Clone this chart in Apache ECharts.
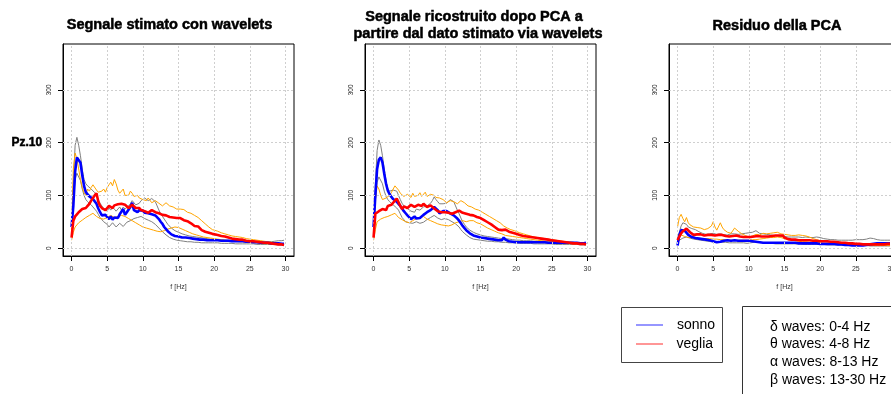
<!DOCTYPE html>
<html>
<head>
<meta charset="utf-8">
<script src="https://cdn.jsdelivr.net/npm/echarts@6/dist/echarts.min.js"></script>
<style>
  html, body { margin: 0; padding: 0; background: #ffffff; }
  #chart { width: 891px; height: 394px; }
</style>
</head>
<body>
<div id="chart"></div>
<script>
// Frequency grid (Hz) shared by every spectrum
const freq = [
  0, 0.25, 0.5, 0.75, 1, 1.25, 1.5, 1.75, 2, 2.25, 2.5, 2.75, 3, 3.25, 3.5, 3.75, 4, 4.25, 4.5, 4.75, 5,
  5.25, 5.5, 5.75, 6, 6.25, 6.5, 6.75, 7, 7.25, 7.5, 7.75, 8, 8.25, 8.5, 8.75, 9, 9.25, 9.5, 9.75, 10,
  10.25, 10.5, 10.75, 11, 11.25, 11.5, 11.75, 12, 12.25, 12.5, 12.75, 13, 13.25, 13.5, 13.75, 14, 14.25, 14.5, 14.75, 15,
  15.25, 15.5, 15.75, 16, 16.25, 16.5, 16.75, 17, 17.25, 17.5, 17.75, 18, 18.25, 18.5, 18.75, 19, 19.25, 19.5, 19.75, 20,
  20.5, 21, 21.5, 22, 22.5, 23, 23.5, 24, 24.5, 25, 25.5, 26, 26.5, 27, 27.5, 28, 28.5, 29, 29.5,
  29.8];

const xTicks = [0, 5, 10, 15, 20, 25, 30];
const yTicks = [0, 100, 200, 300];

// Panel 1: wavelet estimate
const p1Gray1 = [
  30, 120, 195, 210, 195, 175, 150, 130, 122, 118, 115, 112, 112, 105, 100, 92, 85, 80, 75, 72, 70,
  76, 72, 78, 75, 70, 72, 78, 72, 78, 74, 75, 80, 84, 90, 86, 82, 80, 85, 90, 92,
  95, 97, 90, 90, 94, 96, 88, 80, 72, 65, 60, 55, 50, 45, 42, 38, 35, 33, 31, 30,
  28, 27, 26, 25, 24, 23, 23, 22, 22, 21, 20, 20, 20, 19, 18, 18, 18, 17, 17, 17,
  16, 16, 15, 15, 15, 14, 14, 14, 13, 13, 13, 13, 13, 12, 12, 12, 13, 14, 14,
  15];
const p1Gray2 = [
  35, 90, 130, 142, 140, 128, 112, 100, 92, 88, 85, 82, 78, 74, 70, 64, 58, 54, 50, 47, 45,
  40, 43, 48, 46, 40, 42, 47, 44, 41, 44, 49, 48, 52, 50, 56, 54, 58, 55, 60, 58,
  56, 55, 53, 52, 50, 48, 45, 42, 38, 35, 31, 28, 25, 22, 20, 18, 17, 16, 15, 15,
  14, 14, 13, 13, 12, 12, 12, 12, 11, 11, 11, 11, 10, 10, 10, 10, 10, 10, 10, 10,
  10, 9, 9, 9, 9, 8, 8, 8, 8, 8, 8, 7, 7, 7, 7, 7, 7, 6, 6,
  6];
const p1Orange1 = [
  30, 150, 180, 170, 150, 130, 115, 105, 100, 112, 108, 115, 120, 118, 110, 106, 104, 108, 112, 106, 115,
  120, 125, 118, 130, 122, 110, 104, 105, 112, 100, 98, 100, 108, 104, 98, 95, 100, 95, 96, 92,
  94, 90, 95, 92, 86, 88, 90, 90, 85, 85, 80, 82, 86, 84, 80, 80, 78, 78, 74, 76,
  74, 72, 73, 70, 68, 68, 66, 64, 62, 60, 58, 56, 52, 49, 46, 43, 40, 38, 35, 35,
  32, 29, 27, 25, 23, 22, 21, 20, 18, 17, 16, 15, 14, 13, 12, 11, 10, 9, 8,
  8];
const p1Orange2 = [
  15, 30, 40, 44, 48, 50, 53, 56, 58, 60, 62, 64, 66, 63, 60, 58, 56, 54, 55, 57, 58,
  60, 62, 60, 58, 56, 60, 58, 62, 62, 60, 58, 56, 55, 52, 50, 48, 45, 44, 42, 40,
  39, 38, 37, 36, 35, 34, 33, 32, 31, 31, 32, 33, 35, 36, 38, 38, 40, 40, 40, 39,
  38, 36, 35, 33, 32, 30, 28, 27, 26, 25, 24, 23, 22, 21, 21, 20, 19, 19, 18, 18,
  17, 16, 15, 14, 13, 13, 12, 12, 11, 11, 10, 10, 9, 9, 8, 8, 7, 7, 7,
  6];
const p1Sonno = [
  40, 80, 145, 172, 175, 162, 138, 118, 106, 102, 98, 95, 93, 90, 84, 75, 68, 62, 60, 63, 59,
  55, 60, 54, 58, 61, 57, 64, 66, 74, 63, 68, 67, 78, 86, 72, 74, 68, 72, 69, 71,
  67, 69, 66, 68, 64, 66, 62, 60, 55, 50, 46, 40, 36, 32, 29, 26, 24, 23, 22, 22,
  21, 20, 19, 20, 18, 19, 17, 18, 16, 17, 15, 16, 14, 16, 17, 15, 16, 15, 14, 15,
  15, 14, 14, 14, 13, 13, 13, 13, 12, 12, 11, 11, 10, 10, 10, 9, 9, 9, 8,
  8];
const p1Veglia = [
  20, 52, 60, 64, 68, 66, 74, 72, 76, 80, 84, 90, 95, 100, 104, 88, 80, 76, 75, 72, 76,
  80, 79, 76, 81, 84, 83, 80, 84, 86, 82, 79, 76, 78, 82, 84, 76, 74, 76, 72, 72,
  70, 70, 67, 68, 72, 71, 68, 70, 66, 66, 63, 64, 62, 62, 59, 60, 58, 57, 57, 56,
  57, 55, 53, 53, 51, 50, 47, 44, 42, 40, 41, 38, 34, 35, 31, 32, 29, 29, 27, 27,
  25, 23, 22, 20, 18, 17, 16, 16, 14, 13, 13, 12, 11, 10, 10, 9, 8, 7, 7,
  6];

// Panel 2: reconstruction after PCA
const p2Gray1 = [
  35, 120, 185, 205, 195, 175, 150, 128, 112, 108, 105, 110, 112, 108, 100, 92, 85, 80, 78, 75, 72,
  70, 70, 68, 74, 76, 72, 70, 78, 76, 80, 82, 85, 90, 97, 92, 88, 84, 82, 84, 86,
  85, 88, 92, 94, 88, 80, 72, 65, 57, 50, 45, 40, 37, 34, 32, 30, 28, 27, 26, 25,
  24, 23, 23, 22, 22, 21, 21, 20, 20, 19, 19, 18, 18, 18, 17, 17, 16, 16, 15, 15,
  15, 14, 14, 14, 13, 13, 13, 13, 12, 12, 12, 12, 11, 11, 11, 11, 10, 10, 10,
  10];
const p2Gray2 = [
  35, 90, 125, 135, 133, 122, 108, 98, 92, 88, 85, 82, 80, 76, 72, 65, 58, 54, 50, 49, 48,
  46, 47, 45, 50, 48, 47, 45, 49, 52, 54, 56, 58, 60, 62, 60, 57, 55, 54, 55, 56,
  55, 54, 52, 50, 48, 46, 44, 40, 35, 31, 28, 25, 22, 20, 18, 17, 16, 16, 15, 15,
  14, 14, 13, 13, 13, 13, 12, 12, 12, 12, 11, 11, 11, 11, 10, 10, 10, 10, 10, 10,
  9, 9, 9, 9, 8, 8, 8, 8, 8, 8, 7, 7, 7, 7, 7, 7, 7, 6, 6,
  6];
const p2Orange1 = [
  30, 90, 118, 112, 100, 92, 90, 95, 98, 100, 105, 112, 118, 114, 110, 104, 102, 98, 98, 102, 100,
  96, 104, 98, 96, 100, 105, 98, 100, 106, 98, 98, 102, 104, 100, 96, 98, 95, 94, 92, 90,
  86, 88, 90, 92, 88, 86, 84, 86, 90, 90, 86, 84, 80, 82, 78, 78, 74, 75, 72, 70,
  68, 66, 64, 62, 60, 58, 56, 54, 52, 50, 48, 46, 42, 40, 38, 36, 35, 34, 33, 32,
  29, 27, 25, 23, 21, 20, 19, 18, 17, 16, 15, 14, 13, 12, 11, 11, 10, 9, 9,
  9];
const p2Orange2 = [
  15, 35, 50, 52, 55, 56, 58, 60, 60, 62, 63, 65, 66, 62, 58, 56, 54, 52, 50, 49, 48,
  50, 52, 54, 56, 55, 58, 60, 60, 58, 55, 53, 52, 50, 49, 47, 46, 45, 44, 43, 43,
  42, 42, 43, 44, 46, 48, 50, 50, 51, 52, 50, 50, 51, 52, 53, 52, 50, 48, 46, 46,
  44, 42, 40, 38, 36, 35, 33, 32, 30, 29, 27, 27, 25, 24, 23, 23, 22, 22, 21, 21,
  20, 19, 18, 17, 16, 15, 14, 13, 13, 12, 11, 10, 10, 9, 9, 8, 8, 7, 7,
  7];
const p2Sonno = [
  40, 100, 150, 168, 172, 162, 141, 122, 109, 102, 97, 93, 90, 88, 84, 80, 75, 70, 66, 62, 59,
  55, 57, 60, 56, 54, 57, 60, 63, 65, 68, 70, 72, 75, 78, 81, 72, 66, 68, 70, 72,
  70, 68, 66, 65, 62, 60, 56, 52, 47, 42, 38, 34, 31, 28, 26, 24, 23, 22, 21, 20,
  20, 19, 18, 18, 17, 17, 16, 16, 16, 15, 15, 15, 20, 16, 13, 13, 12, 12, 11, 11,
  11, 11, 11, 11, 11, 11, 11, 11, 10, 10, 10, 10, 10, 10, 10, 10, 10, 9, 9,
  10];
const p2Veglia = [
  20, 65, 68, 70, 71, 74, 76, 72, 80, 78, 82, 86, 90, 94, 94, 80, 74, 79, 81, 76, 78,
  82, 80, 78, 81, 82, 83, 80, 84, 82, 78, 80, 81, 78, 75, 72, 70, 72, 68, 70, 68,
  66, 67, 64, 65, 66, 68, 70, 71, 68, 67, 64, 65, 62, 63, 61, 62, 60, 59, 56, 57,
  55, 53, 51, 49, 47, 45, 42, 40, 37, 35, 36, 34, 36, 35, 33, 31, 30, 29, 28, 27,
  25, 23, 22, 21, 20, 19, 18, 17, 16, 15, 14, 13, 12, 11, 10, 9, 9, 8, 8,
  7];

// Panel 3: PCA residual
const p3Gray1 = [
  15, 30, 42, 48, 50, 45, 40, 38, 37, 36, 35, 33, 31, 29, 28, 27, 26, 26, 27, 28, 28,
  27, 26, 27, 27, 26, 25, 26, 25, 26, 27, 28, 27, 26, 26, 27, 27, 28, 28, 29, 29,
  30, 30, 31, 33, 30, 28, 28, 27, 27, 26, 26, 25, 25, 24, 24, 23, 23, 22, 22, 22,
  22, 21, 21, 21, 21, 21, 20, 21, 20, 20, 20, 21, 21, 20, 20, 20, 21, 21, 20, 20,
  18, 17, 16, 16, 15, 15, 15, 15, 15, 16, 16, 16, 17, 19, 18, 16, 15, 15, 15,
  15];
const p3Gray2 = [
  10, 15, 18, 19, 20, 21, 20, 19, 18, 17, 16, 16, 15, 15, 14, 14, 13, 13, 12, 12, 12,
  12, 11, 11, 11, 11, 11, 11, 10, 10, 10, 10, 10, 10, 10, 10, 10, 10, 10, 9, 9,
  10, 10, 11, 11, 12, 12, 11, 11, 10, 10, 9, 9, 9, 9, 8, 8, 8, 8, 8, 8,
  8, 8, 8, 8, 8, 8, 8, 8, 8, 8, 7, 7, 7, 7, 7, 7, 7, 7, 7, 7,
  7, 6, 6, 6, 6, 6, 6, 5, 5, 5, 5, 5, 5, 4, 4, 4, 4, 4, 4,
  4];
const p3Orange1 = [
  40, 58, 64, 56, 50, 58, 48, 44, 42, 40, 38, 39, 37, 38, 36, 35, 35, 37, 36, 42, 50,
  40, 34, 36, 48, 40, 35, 33, 30, 32, 28, 30, 38, 36, 32, 30, 27, 25, 24, 22, 21,
  22, 23, 25, 26, 28, 25, 26, 28, 27, 27, 28, 28, 30, 29, 28, 30, 27, 27, 26, 26,
  25, 25, 25, 24, 24, 24, 24, 25, 25, 24, 24, 23, 22, 21, 19, 18, 17, 16, 15, 14,
  13, 12, 11, 10, 9, 9, 8, 8, 7, 6, 6, 6, 6, 6, 6, 6, 6, 6, 6,
  6];
const p3Orange2 = [
  12, 20, 25, 23, 22, 21, 20, 20, 20, 19, 19, 19, 19, 18, 18, 18, 18, 18, 18, 17, 17,
  17, 17, 17, 16, 16, 16, 16, 15, 15, 15, 15, 15, 15, 15, 15, 15, 15, 15, 15, 15,
  15, 16, 16, 16, 17, 17, 18, 18, 19, 19, 20, 20, 20, 20, 21, 21, 20, 20, 19, 18,
  17, 16, 16, 15, 15, 14, 14, 13, 13, 12, 12, 12, 11, 11, 11, 11, 10, 10, 10, 10,
  9, 9, 8, 8, 8, 7, 7, 7, 6, 6, 6, 6, 6, 5, 5, 5, 5, 5, 5,
  5];
const p3Sonno = [
  5, 25, 34, 35, 33, 30, 25, 23, 21, 20, 19, 18, 18, 17, 17, 16, 16, 15, 15, 14, 13,
  12, 11, 11, 12, 12, 14, 15, 15, 14, 14, 14, 15, 14, 14, 14, 14, 14, 14, 14, 14,
  13, 13, 12, 12, 11, 11, 11, 10, 10, 10, 10, 10, 10, 10, 10, 10, 10, 10, 10, 10,
  10, 10, 10, 10, 10, 10, 10, 9, 9, 9, 9, 9, 9, 9, 9, 9, 9, 9, 8, 8,
  8, 8, 8, 8, 7, 7, 6, 6, 5, 5, 5, 5, 6, 7, 8, 9, 9, 9, 9,
  9];
const p3Veglia = [
  15, 22, 28, 32, 35, 37, 34, 30, 27, 25, 24, 26, 28, 26, 25, 24, 24, 25, 26, 25, 25,
  24, 24, 25, 26, 25, 25, 23, 22, 22, 23, 23, 24, 24, 22, 22, 21, 21, 21, 21, 21,
  21, 22, 22, 23, 23, 22, 22, 22, 22, 22, 22, 23, 23, 24, 24, 24, 24, 24, 24, 20,
  18, 17, 16, 16, 16, 16, 16, 15, 15, 15, 15, 15, 15, 15, 15, 14, 14, 14, 14, 13,
  13, 13, 12, 12, 11, 10, 10, 9, 9, 8, 8, 7, 7, 7, 7, 7, 7, 7, 8,
  8];

const panels = [
  { grays: [p1Gray1, p1Gray2], oranges: [p1Orange1, p1Orange2], sonno: p1Sonno, veglia: p1Veglia },
  { grays: [p2Gray1, p2Gray2], oranges: [p2Orange1, p2Orange2], sonno: p2Sonno, veglia: p2Veglia },
  { grays: [p3Gray1, p3Gray2], oranges: [p3Orange1, p3Orange2], sonno: p3Sonno, veglia: p3Veglia }
];

// plot boxes
const boxes = [
  { left: 63, top: 44, width: 231, height: 212 },
  { left: 365, top: 44, width: 231, height: 212 },
  { left: 669, top: 44, width: 231, height: 212 }
];

const FONT = '"Liberation Sans", Arial, sans-serif';

const grids = boxes.map(b => ({
  left: b.left, top: b.top, width: b.width, height: b.height,
  show: true, borderColor: '#000', borderWidth: 1, backgroundColor: 'transparent',
  outerBoundsMode: 'none', containLabel: false
}));

const xAxes = boxes.map((b, i) => ({
  type: 'value', gridIndex: i, min: -1.2, max: 31.2,
  name: 'f [Hz]', nameLocation: 'middle', nameGap: 28,
  nameTextStyle: { fontSize: 7, color: '#333', fontFamily: FONT },
  axisLine: { show: true, onZero: false, lineStyle: { color: '#000', width: 1 } },
  axisTick: { show: true, customValues: xTicks, length: 5, lineStyle: { color: '#000' } },
  axisLabel: { show: true, customValues: xTicks, fontSize: 7, color: '#333', margin: 10, fontFamily: FONT },
  splitLine: { show: false }
}));

const yAxes = boxes.map((b, i) => ({
  type: 'value', gridIndex: i, min: -15, max: 387,
  axisLine: { show: true, onZero: false, lineStyle: { color: '#000', width: 1 } },
  axisTick: { show: true, customValues: yTicks, length: 5, lineStyle: { color: '#000' } },
  axisLabel: { show: true, customValues: yTicks, fontSize: 6.5, color: '#222', rotate: 90, margin: 10, fontFamily: FONT },
  splitLine: { show: false }
}));

function pairs(arr) { return freq.map((f, k) => [f, arr[k]]); }

const series = [];
panels.forEach((p, i) => {
  // dotted reference grid
  series.push({
    type: 'line', xAxisIndex: i, yAxisIndex: i, data: [], z: 1, silent: true,
    markLine: {
      silent: true, symbol: 'none', animation: false,
      label: { show: false },
      lineStyle: { color: '#cfcfcf', width: 1, type: [2, 2] },
      data: xTicks.map(v => ({ xAxis: v })).concat(yTicks.map(v => ({ yAxis: v })))
    }
  });
  p.grays.forEach(g => series.push({
    type: 'line', xAxisIndex: i, yAxisIndex: i, data: pairs(g), symbol: 'none', z: 2, silent: true,
    lineStyle: { color: '#808080', width: 1 }
  }));
  p.oranges.forEach(o => series.push({
    type: 'line', xAxisIndex: i, yAxisIndex: i, data: pairs(o), symbol: 'none', z: 3, silent: true,
    lineStyle: { color: '#ffa500', width: 1 }
  }));
  series.push({
    type: 'line', xAxisIndex: i, yAxisIndex: i, data: pairs(p.sonno), symbol: 'none', z: 4, silent: true,
    lineStyle: { color: '#0000ff', width: 2.6 }
  });
  series.push({
    type: 'line', xAxisIndex: i, yAxisIndex: i, data: pairs(p.veglia), symbol: 'none', z: 5, silent: true,
    lineStyle: { color: '#ff0000', width: 2.6 }
  });
});

function txt(x, y, text, font, align, heavy) {
  const style = { text: text, font: font, fill: '#000', align: align || 'center', verticalAlign: 'middle' };
  if (heavy) { style.stroke = '#000'; style.lineWidth = 0.5; }
  return { type: 'text', x: x, y: y, silent: true, style: style };
}

const titleFont = 'bold 14.5px ' + FONT;
const legendFont = '14px ' + FONT;

const graphics = [
  txt(169.5, 25, 'Segnale stimato con wavelets', titleFont, 'center', true),
  txt(474, 16.7, 'Segnale ricostruito dopo PCA a', titleFont, 'center', true),
  txt(478, 33.5, 'partire dal dato stimato via wavelets', titleFont, 'center', true),
  txt(777, 26, 'Residuo della PCA', titleFont, 'center', true),
  txt(11.5, 143, 'Pz.10', 'bold 12px ' + FONT, 'left', true),
  // legend: groups
  { type: 'rect', silent: true, shape: { x: 621.5, y: 307.5, width: 101, height: 55 },
    style: { fill: '#fff', stroke: '#444', lineWidth: 1 } },
  { type: 'line', silent: true, shape: { x1: 636, y1: 325, x2: 663, y2: 325 },
    style: { stroke: '#5050ff', lineWidth: 1.2 } },
  { type: 'line', silent: true, shape: { x1: 636, y1: 344, x2: 663, y2: 344 },
    style: { stroke: '#ff5050', lineWidth: 1.2 } },
  txt(677, 325, 'sonno', legendFont, 'left'),
  txt(676.5, 344, 'veglia', legendFont, 'left'),
  // legend: EEG bands
  { type: 'rect', silent: true, shape: { x: 742.5, y: 306.5, width: 200, height: 120 },
    style: { fill: '#fff', stroke: '#333', lineWidth: 1 } },
  txt(770, 326.7, 'δ waves: 0-4 Hz', legendFont, 'left'),
  txt(770, 344.5, 'θ waves: 4-8 Hz', legendFont, 'left'),
  txt(770, 362.5, 'α waves: 8-13 Hz', legendFont, 'left'),
  txt(770, 380.5, 'β waves: 13-30 Hz', legendFont, 'left')
];

const chart = echarts.init(document.getElementById('chart'), null, { renderer: 'canvas' });
chart.setOption({
  animation: false,
  backgroundColor: '#ffffff',
  grid: grids,
  xAxis: xAxes,
  yAxis: yAxes,
  series: series,
  graphic: graphics
});
</script>
</body>
</html>
